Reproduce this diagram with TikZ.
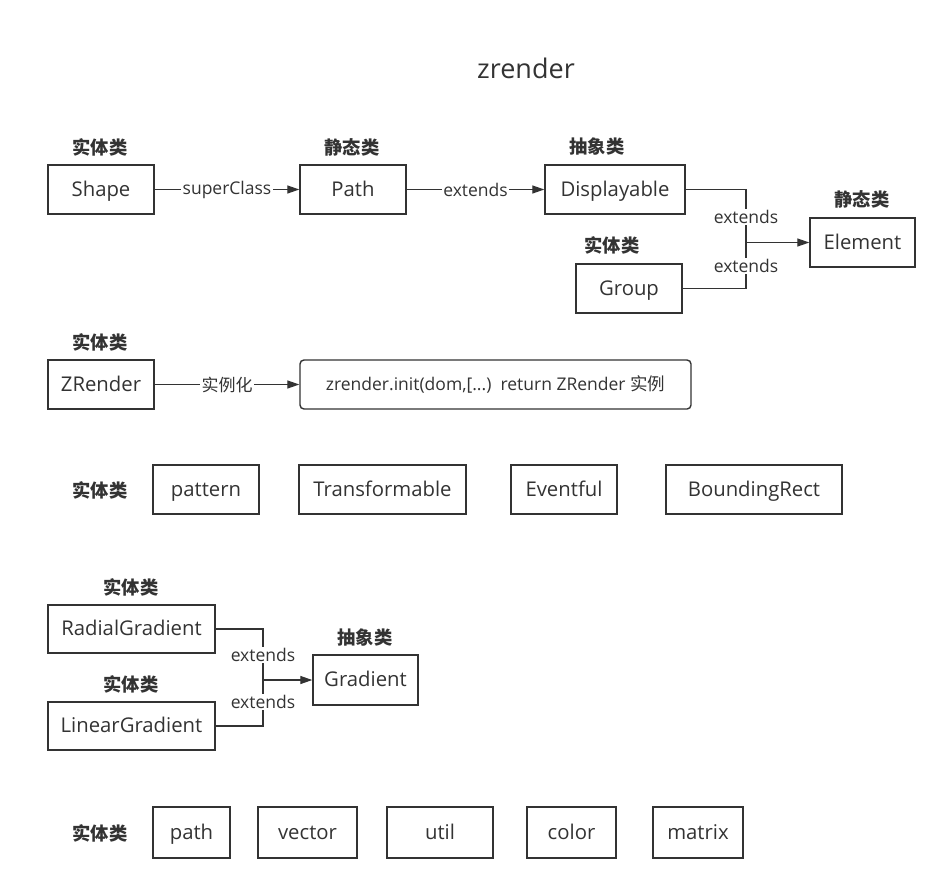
\documentclass[tikz,border=0pt]{standalone}
\usepackage{fontspec}
\setmainfont{Open Sans}
\newfontfamily\cjk{Noto Sans CJK SC}
\usetikzlibrary{arrows.meta}
\definecolor{ink}{HTML}{333333}
\begin{document}
\begin{tikzpicture}[x=1pt,y=-1pt,
  box/.style={draw=ink, line width=1.4pt, inner sep=0pt, text=ink, font=\fontsize{20.3}{24}\selectfont, minimum height=49pt, text height=15pt, text depth=1.6pt},
  rbox/.style={box, rounded corners=4pt, text height=14pt, text depth=1.4pt},
  lbl/.style={font=\cjk\bfseries\fontsize{18.3}{22}\selectfont, text=ink, inner sep=0pt},
  conn/.style={draw=ink, line width=1.3pt},
  arr/.style={conn, -{Triangle[length=12pt,width=8pt]}},
  elab/.style={fill=white, inner sep=1.5pt, font=\fontsize{17.5}{20}\selectfont, text=ink}]
\useasboundingbox[fill=white] (0,0) rectangle (947,889);

\node[text=ink, font=\fontsize{27}{30}\selectfont, inner sep=0pt] (title) at (526,68) {zrender};

% row 1
\node[box, minimum width=106pt] (shape) at (101,189.5) {Shape};
\node[box, minimum width=106pt] (path) at (353,189.5) {Path};
\node[box, minimum width=140pt] (disp) at (615,189.5) {Displayable};
\node[box, minimum width=105pt] (elem) at (862.5,242.5) {Element};
\node[box, minimum width=106pt] (group) at (629,288.5) {Group};
\node[lbl] (l1) at (100,147) {实体类};
\node[lbl] (l2) at (352,147) {静态类};
\node[lbl] (l3) at (597,147) {抽象类};
\node[lbl] (l4) at (862,199) {静态类};
\node[lbl] (l5) at (612,245) {实体类};
\coordinate (jE) at (746,242.5);
\draw[arr] (shape) -- node[elab] {superClass} (path);
\draw[arr] (path) -- node[elab] {extends} (disp);
\draw[conn] (disp.east) -| (jE);
\draw[conn] (group.east) -| (jE);
\draw[arr] (jE) -- (elem.west);
\node[elab] (e1) at (746,217) {extends};
\node[elab] (e2) at (746,266) {extends};

% row 2
\node[box, minimum width=106pt] (zr) at (101,384.5) {ZRender};
\node[rbox, minimum width=391pt, font=\fontsize{17.5}{20}\selectfont] (init) at (495.5,384.5) {zrender.init(dom,[...)\ \ return ZRender {\cjk 实例}};
\node[lbl] (l6) at (100,342) {实体类};
\draw[arr] (zr) -- node[elab, font=\cjk\fontsize{17}{20}\selectfont] {实例化} (init);

% row 3
\node[lbl] (l7) at (100,490) {实体类};
\node[box, minimum width=106pt] (pattern) at (206,489.5) {pattern};
\node[box, minimum width=167pt] (transf) at (382.5,489.5) {Transformable};
\node[box, minimum width=106pt] (event) at (564,489.5) {Eventful};
\node[box, minimum width=176pt] (brect) at (754,489.5) {BoundingRect};

% gradients
\node[box, minimum width=167pt, minimum height=48pt] (radial) at (131.5,629) {RadialGradient};
\node[box, minimum width=167pt, minimum height=48pt] (linear) at (131.5,726) {LinearGradient};
\node[box, minimum width=105pt, minimum height=50pt] (grad) at (365.5,680) {Gradient};
\node[lbl] (l8) at (131,587) {实体类};
\node[lbl] (l9) at (131,684) {实体类};
\node[lbl] (l10) at (365,637) {抽象类};
\coordinate (jG) at (263,680);
\draw[conn] (radial.east) -| (jG);
\draw[conn] (linear.east) -| (jG);
\draw[arr] (jG) -- (grad.west);
\node[elab] (e3) at (263,655) {extends};
\node[elab] (e4) at (263,702) {extends};

% bottom row
\node[lbl] (l11) at (100,833) {实体类};
\node[box, minimum width=77pt, minimum height=51pt] (pth) at (191.5,832.5) {path};
\node[box, minimum width=99pt, minimum height=51pt] (vec) at (307.5,832.5) {vector};
\node[box, minimum width=106pt, minimum height=51pt] (util) at (440,832.5) {util};
\node[box, minimum width=89pt, minimum height=51pt] (color) at (571.5,832.5) {color};
\node[box, minimum width=90pt, minimum height=51pt] (matrix) at (698,832.5) {matrix};
\end{tikzpicture}
\end{document}
